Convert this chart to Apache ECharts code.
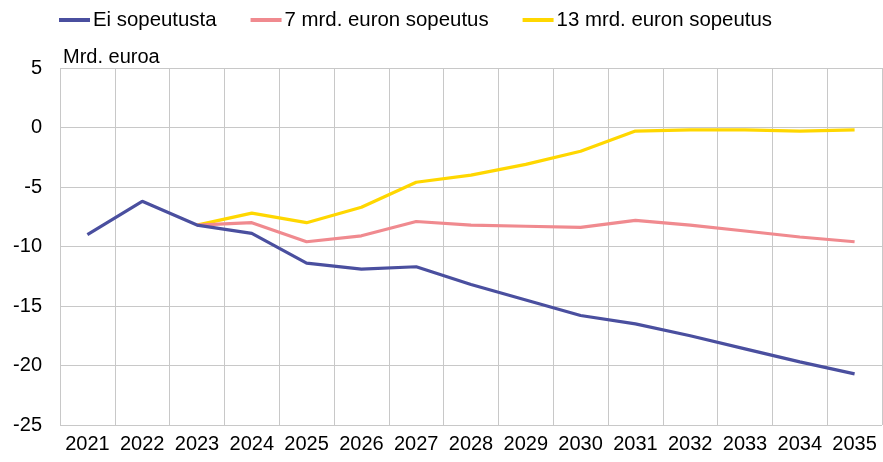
<!DOCTYPE html>
<html>
<head>
<meta charset="utf-8">
<script src="https://cdn.jsdelivr.net/npm/echarts@6/dist/echarts.min.js"></script>
<style>html,body{margin:0;padding:0;background:#fff}#c{width:883px;height:462px}</style>
</head>
<body>
<div id="c"></div>
<script>
var years = ['2021','2022','2023','2024','2025','2026','2027','2028','2029','2030','2031','2032','2033','2034','2035'];
var eiSopeutusta = [-9.0, -6.2, -8.2, -8.9, -11.4, -11.9, -11.7, -13.2, -14.5, -15.8, -16.5, -17.5, -18.6, -19.7, -20.7];
var sopeutus7 = [null, null, -8.2, -8.0, -9.6, -9.1, -7.9, -8.2, -8.3, -8.4, -7.8, -8.2, -8.7, -9.2, -9.6];
var sopeutus13 = [null, null, -8.2, -7.2, -8.0, -6.7, -4.6, -4.0, -3.1, -2.0, -0.3, -0.2, -0.2, -0.3, -0.2];
var seriesNames = ['Ei sopeutusta', '7 mrd. euron sopeutus', '13 mrd. euron sopeutus'];
var colors = ['#4a4f9f', '#f08a8f', '#ffd700'];

var chart = echarts.init(document.getElementById('c'), null, {renderer: 'canvas'});
var font = 'Liberation Sans, Arial, sans-serif';
chart.setOption({
  animation: false,
  color: colors,
  title: {
    text: 'Mrd. euroa', left: 58, top: 42,
    textStyle: {fontFamily: font, fontSize: 20, fontWeight: 'normal', color: '#000'}
  },
  legend: {
    left: 54, top: 5, icon: 'rect', itemWidth: 31, itemHeight: 4, itemGap: 34,
    textStyle: {fontFamily: font, fontSize: 20.4, color: '#000', padding: [0, 0, 0, -2]},
    data: seriesNames
  },
  grid: {left: 60, right: 1, top: 68, bottom: 37},
  xAxis: {
    type: 'category', data: years, boundaryGap: true,
    axisLine: {show: false}, axisTick: {show: false},
    axisLabel: {fontFamily: font, fontSize: 20, color: '#000', margin: 9, interval: 0},
    splitLine: {show: true, lineStyle: {color: '#c8c8c8', width: 1}}
  },
  yAxis: {
    type: 'value', min: -25, max: 5, interval: 5,
    axisLine: {show: false}, axisTick: {show: false},
    axisLabel: {fontFamily: font, fontSize: 20, color: '#000', margin: 18},
    splitLine: {show: true, lineStyle: {color: '#c8c8c8', width: 1}}
  },
  series: [
    {name: seriesNames[2], type: 'line', data: sopeutus13, showSymbol: false, lineStyle: {width: 3.2}, z: 2},
    {name: seriesNames[1], type: 'line', data: sopeutus7, showSymbol: false, lineStyle: {width: 3.2}, z: 3},
    {name: seriesNames[0], type: 'line', data: eiSopeutusta, showSymbol: false, lineStyle: {width: 3.2}, z: 4}
  ].map(function (s) { s.color = colors[seriesNames.indexOf(s.name)]; return s; })
});
</script>
</body>
</html>
